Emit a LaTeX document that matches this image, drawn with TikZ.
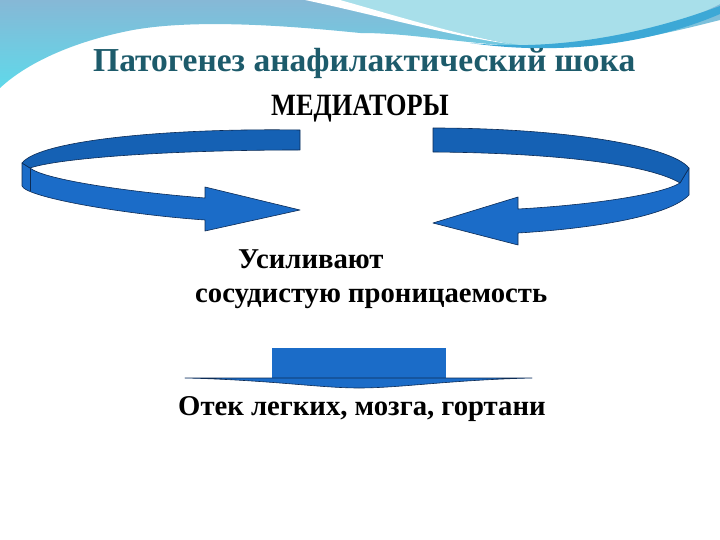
\documentclass[tikz,border=0pt]{standalone}
\usepackage{fontspec}
\setmainfont{Liberation Serif}

\definecolor{titleteal}{HTML}{1D5B6B}
\definecolor{skyblue}{HTML}{86B8D6}
\definecolor{skycyan}{HTML}{5FD9EA}
\definecolor{skylight}{HTML}{A8DFEA}
\definecolor{skyline}{HTML}{3CA8D6}
\definecolor{front}{HTML}{1B6CC8}
\definecolor{back}{HTML}{1561B4}
\definecolor{edge}{HTML}{0C2B55}

\begin{document}
\begin{tikzpicture}[x=1pt, y=-1pt,
    ribbonfront/.style={fill=front, draw=edge, line width=0.6pt, line join=round},
    ribbonback/.style={fill=back, draw=edge, line width=0.6pt, line join=round},
    bigtext/.style={anchor=base west, inner sep=0pt, font=\fontsize{28.7}{30}\selectfont\bfseries}]
  \useasboundingbox (0,0) rectangle (720,540);
  \fill[white] (0,0) rectangle (720,540);

  % top swoosh
  \shade[top color=skyblue, bottom color=skycyan] (0,0) -- (720,0) -- (720,20)
    .. controls (650,38) and (590,50) .. (527,47)
    .. controls (450,42) and (410,33) .. (360,33)
    .. controls (300,27) and (200,18) .. (133,30)
    .. controls (80,40) and (30,60) .. (0,88) -- cycle;
  \fill[skylight] (335,0) .. controls (400,18) and (470,38) .. (520,45)
    .. controls (600,46) and (680,25) .. (720,4) -- (720,0) -- cycle;
  \fill[white] (305,0) .. controls (380,16) and (450,36) .. (510,44)
    .. controls (450,33) and (390,14) .. (340,0) -- cycle;
  \fill[skyline] (470,43) .. controls (560,52) and (650,32) .. (720,6)
    -- (720,14) .. controls (650,44) and (560,56) .. (470,43) -- cycle;

  % left loop
  \path[ribbonfront] (22,163) -- (22,186) .. controls (26,197) and (120,214) .. (205,220)
    -- (205,231) -- (300,210) -- (205,187) -- (205,198)
    .. controls (130,192) and (45,180) .. (30,168) -- cycle;
  \path[ribbonback] (300,130) .. controls (170,128) and (40,140) .. (22,163)
    -- (30,168) .. controls (60,158) and (170,150) .. (300,150) -- cycle;
  \draw[edge, line width=0.5pt] (30,168) -- (30,191);

  % right loop
  \path[ribbonfront] (689,168) -- (689,195) .. controls (670,215) and (600,228) .. (518,233)
    -- (518,245) -- (433,223) -- (518,197) -- (518,209)
    .. controls (590,205) and (660,195) .. (680,183) -- cycle;
  \path[ribbonback] (433,128) .. controls (560,128) and (670,145) .. (689,168)
    -- (680,183) .. controls (650,165) and (560,153) .. (433,152) -- cycle;

  % down arrow
  \fill[front] (272,348) rectangle (446,378);
  \path[ribbonfront] (185,378) .. controls (270,380) and (320,388) .. (359,388)
    .. controls (400,388) and (450,380) .. (532,378) -- cycle;

  % texts
  \node[anchor=base west, inner sep=0pt, text=titleteal, font=\fontsize{33.5}{36}\selectfont\bfseries]
    (title) at (93,72) {Патогенез анафилактический шока};
  \node[anchor=base west, inner sep=0pt, font=\fontsize{31}{33}\selectfont\bfseries]
    (mediators) at (271,116) {\scalebox{0.85}[1]{МЕДИАТОРЫ}};
  \node[bigtext] (boost) at (238,268) {Усиливают};
  \node[bigtext] (perm) at (195,302) {сосудистую проницаемость};
  \node[bigtext] (edema) at (178,415) {Отек легких, мозга, гортани};
\end{tikzpicture}
\end{document}
